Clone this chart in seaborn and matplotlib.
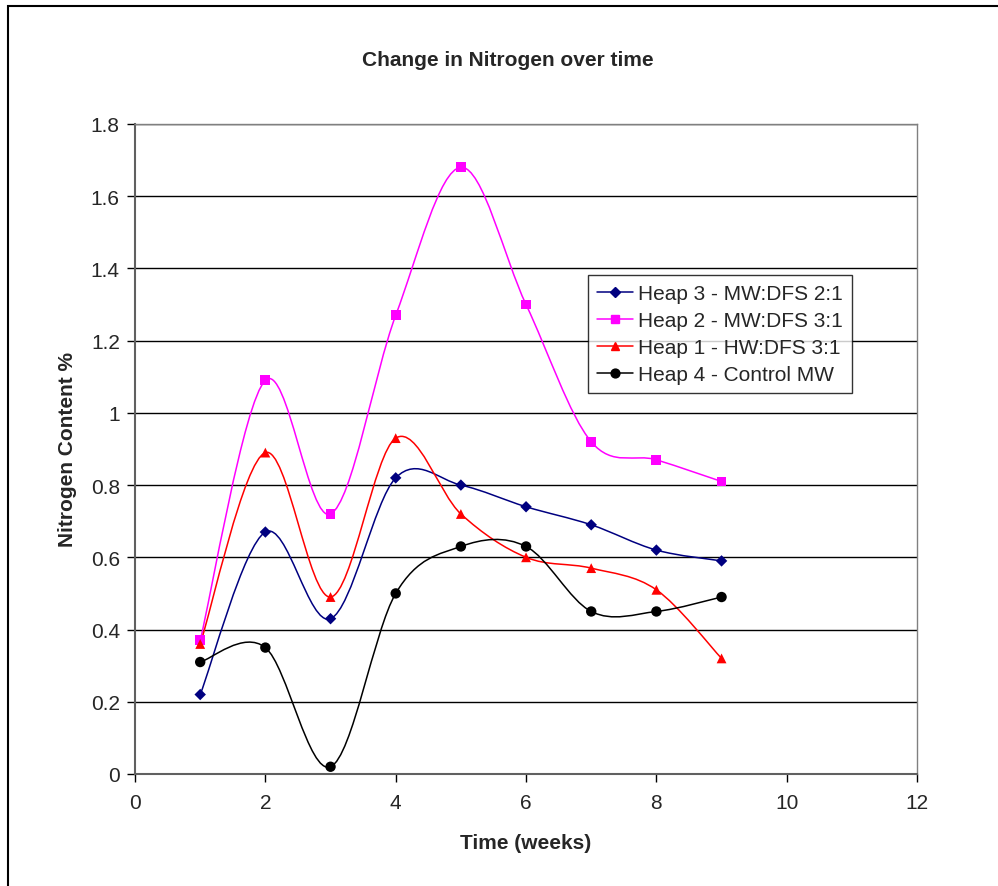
import numpy as np
import pandas as pd
import matplotlib
matplotlib.use('Agg')
import matplotlib.pyplot as plt
from matplotlib.path import Path
from matplotlib.patches import PathPatch, Rectangle
from matplotlib.lines import Line2D
import seaborn as sns

weeks = [1, 2, 3, 4, 5, 6, 7, 8, 9]
heap3 = [0.22, 0.67, 0.43, 0.82, 0.80, 0.74, 0.69, 0.62, 0.59]
heap2 = [0.37, 1.09, 0.72, 1.27, 1.68, 1.30, 0.92, 0.87, 0.81]
heap1 = [0.36, 0.89, 0.49, 0.93, 0.72, 0.60, 0.57, 0.51, 0.32]
heap4 = [0.31, 0.35, 0.02, 0.50, 0.63, 0.63, 0.45, 0.45, 0.49]
names = ['Heap 3 - MW:DFS 2:1', 'Heap 2 - MW:DFS 3:1',
         'Heap 1 - HW:DFS 3:1', 'Heap 4 - Control MW']

colors = ['#000080', '#FF00FF', '#FF0000', '#000000']
markers = ['D', 's', '^', 'o']
msizes = [34, 50, 50, 56]

df = pd.concat([pd.DataFrame({'week': weeks, 'N': v, 'heap': n})
                for v, n in zip([heap3, heap2, heap1, heap4], names)], ignore_index=True)

sns.set_style('white')
plt.rcParams['font.family'] = ['Liberation Sans', 'DejaVu Sans']
FS = 15

fig = plt.figure(figsize=(9.98, 8.87), dpi=100)
ax = fig.add_axes([0.1353, 0.1263, 0.7836, 0.7328])

# outer chart border like Excel
fig.patches.append(Rectangle((0.008, -0.05), 1.2, 1.042, transform=fig.transFigure,
                             fill=False, edgecolor='black', lw=1.5))


def smooth_path(xs, ys):
    # Excel-style Bezier smoothing through the data points
    pts = np.column_stack([xs, ys]).astype(float)
    n = len(pts)
    verts = [pts[0]]
    codes = [Path.MOVETO]
    for i in range(n - 1):
        p0 = pts[i - 1] if i > 0 else pts[i]
        p1 = pts[i]
        p2 = pts[i + 1]
        p3 = pts[i + 2] if i + 2 < n else pts[i + 1]
        c1 = p1 + (p2 - p0) / 6.0
        c2 = p2 - (p3 - p1) / 6.0
        verts += [c1, c2, p2]
        codes += [Path.CURVE4] * 3
    return Path(verts, codes)


for n, c in zip(names, colors):
    sub = df[df['heap'] == n]
    ax.add_patch(PathPatch(smooth_path(sub['week'], sub['N']), fill=False,
                           edgecolor=c, lw=1.1, zorder=3))

sns.scatterplot(data=df, x='week', y='N', hue='heap', style='heap',
                palette=dict(zip(names, colors)), markers=dict(zip(names, markers)),
                size='heap', sizes=dict(zip(names, msizes)),
                edgecolor=None, linewidth=0, ax=ax, legend=False, zorder=4)

ax.set_xlim(0, 12)
ax.set_ylim(0, 1.8)
ax.set_xticks(np.arange(0, 13, 2))
ax.set_yticks(np.round(np.arange(0, 1.81, 0.2), 1))
ax.set_yticklabels(['0', '0.2', '0.4', '0.6', '0.8', '1', '1.2', '1.4', '1.6', '1.8'])
ax.yaxis.grid(True, color='black', lw=1)
ax.xaxis.grid(False)
ax.set_axisbelow(True)
for sp in ['top', 'right']:
    ax.spines[sp].set_color('#808080')
    ax.spines[sp].set_linewidth(1)
for sp in ['left', 'bottom']:
    ax.spines[sp].set_color('#606060')
    ax.spines[sp].set_linewidth(1.5)
ax.tick_params(axis='both', direction='out', length=6, width=1, color='black',
               labelsize=FS, left=True, bottom=True)
ax.tick_params(axis='x', pad=8)
ax.tick_params(axis='y', pad=5)

ax.set_xlabel('Time (weeks)', fontsize=FS, fontweight='bold', labelpad=15)
ax.set_ylabel('Nitrogen Content %', fontsize=FS, fontweight='bold', labelpad=10)
fig.text(0.5085, 0.932, 'Change in Nitrogen over time', ha='center', va='center',
         fontsize=FS, fontweight='bold')

handles = [Line2D([], [], color=c, marker=m, lw=1.1, markersize=s ** 0.5 * 0.85)
           for c, m, s in zip(colors, markers, msizes)]
leg = ax.legend(handles, names, loc='upper left', bbox_to_anchor=(0.579, 0.768),
                borderaxespad=0, fontsize=FS, frameon=True, fancybox=False,
                edgecolor='black', handlelength=1.7, handletextpad=0.25,
                labelspacing=0.38, borderpad=0.45)
leg.get_frame().set_linewidth(1)

fig.savefig('out.png', dpi=100)
